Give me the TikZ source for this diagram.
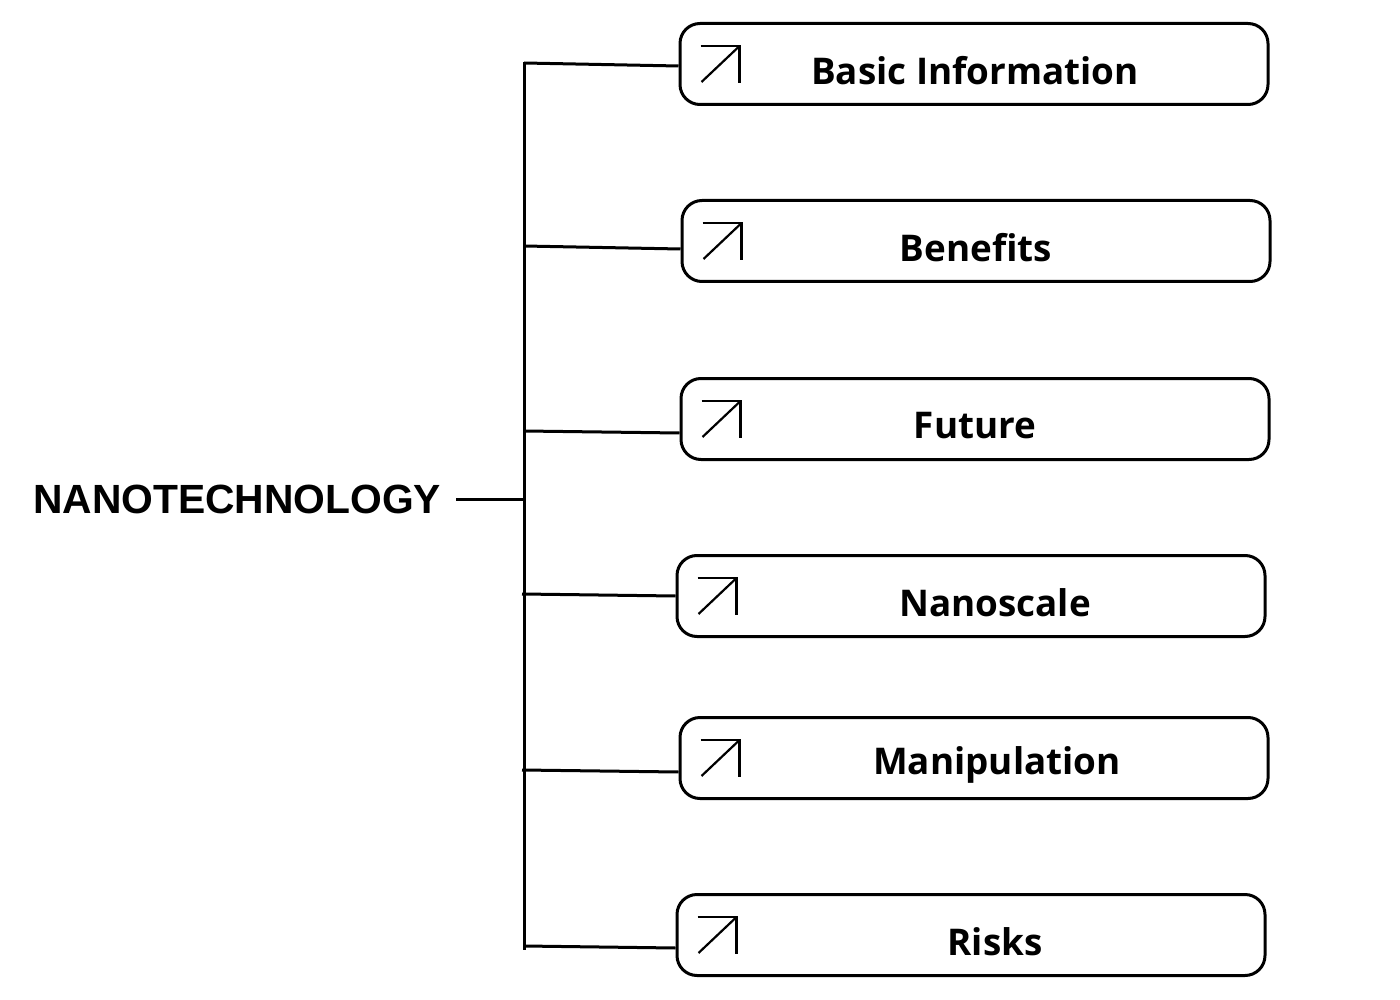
\documentclass[tikz,border=0pt]{standalone}
\usepackage{fontspec}
\setmainfont{Liberation Sans}
\newfontfamily\boxfont{Open Sans}
\begin{document}
\begin{tikzpicture}[x=1pt,y=-1pt,
  item/.style={draw=black,line width=3pt,rounded corners=20pt,minimum width=588pt,minimum height=81pt,inner sep=0pt},
  itemtext/.style={font=\boxfont\bfseries\fontsize{36.8}{40}\selectfont,inner sep=0pt},
  conn/.style={line width=3pt},
  icon/.style={line width=2.2pt}]
\useasboundingbox (0,0) rectangle (1400,1000);
\node[anchor=west,inner sep=0pt,font=\bfseries\fontsize{40.8}{46}\selectfont] (title) at (33,499) {NANOTECHNOLOGY};
\node[item] (b1) at (974,64) {};
\node[item] (b2) at (976,241) {};
\node[item] (b3) at (975,419) {};
\node[item] (b4) at (971,596) {};
\node[item] (b5) at (974,758) {};
\node[item] (b6) at (971,935) {};
\node[itemtext] (t1) at (975,71) {Basic Information};
\node[itemtext] (t2) at (976,248) {Benefits};
\node[itemtext] (t3) at (975,426) {Future};
\node[itemtext] (t4) at (995,603) {Nanoscale};
\node[itemtext] (t5) at (997,765) {Manipulation};
\node[itemtext] (t6) at (995,942) {Risks};
\coordinate (tl) at (456,499);
\coordinate (tr) at (524,499);
\coordinate (vtop) at (524,62);
\coordinate (vbot) at (524,950);
\coordinate (j1) at (524,63);
\coordinate (j2) at (524,246);
\coordinate (j3) at (524,431);
\coordinate (j4) at (522,594);
\coordinate (j5) at (522,770);
\coordinate (j6) at (524,946);
\draw[conn] (tl) -- (tr);
\draw[conn] (vtop) -- (vbot);
\draw[conn] (j1) -- ([yshift=-2pt]b1.west);
\draw[conn] (j2) -- ([yshift=-8pt]b2.west);
\draw[conn] (j3) -- ([yshift=-14pt]b3.west);
\draw[conn] (j4) -- (b4.west);
\draw[conn] (j5) -- ([yshift=-14pt]b5.west);
\draw[conn] (j6) -- ([yshift=-13pt]b6.west);
\foreach \i in {1,...,6}{
  \draw[icon] ([shift={(22,24)}]b\i.north west) -- ([shift={(61,24)}]b\i.north west) -- ([shift={(61,61)}]b\i.north west);
  \draw[icon] ([shift={(23,60)}]b\i.north west) -- ([shift={(60,25)}]b\i.north west);
}
\end{tikzpicture}
\end{document}
